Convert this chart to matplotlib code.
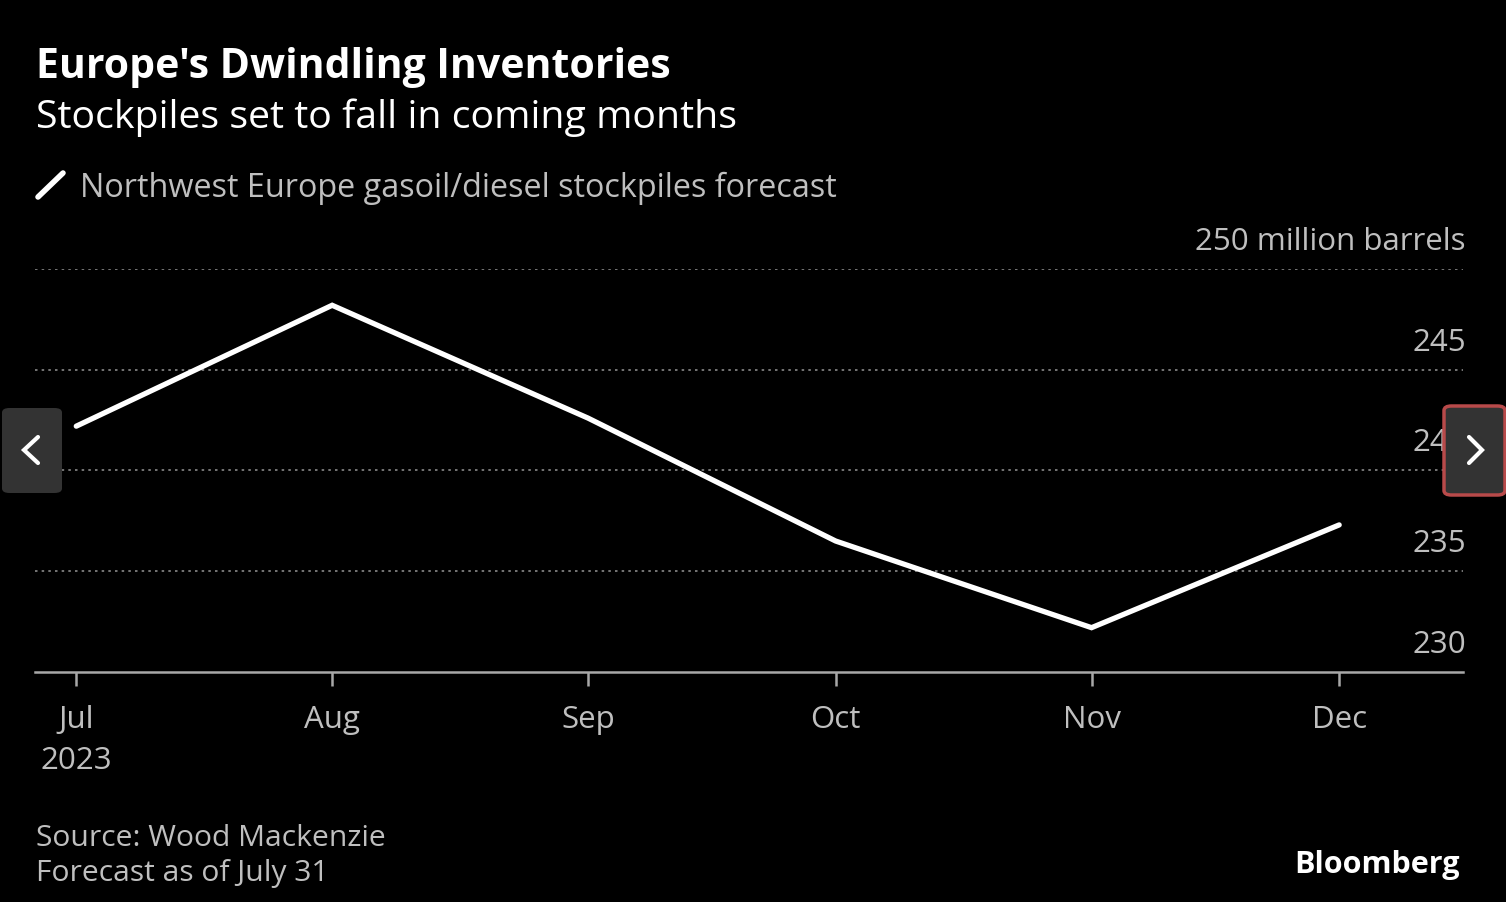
import datetime as dt
import matplotlib.pyplot as plt
import matplotlib.transforms as mtransforms
from matplotlib.patches import FancyBboxPatch
from matplotlib.lines import Line2D

# Northwest Europe gasoil/diesel stockpiles forecast, million barrels
months = [dt.date(2023, m, 1) for m in range(7, 13)]
stocks = [242.2, 248.2, 242.6, 236.5, 232.2, 237.3]
month_labels = ['Jul\n2023', 'Aug', 'Sep', 'Oct', 'Nov', 'Dec']
y_ticks = [230, 235, 240, 245, 250]
y_tick_labels = ['230', '235', '240', '245', '250 million barrels']

FONT = 'Open Sans'
GREY = '#bfbfbf'
plt.rcParams['font.family'] = [FONT, 'DejaVu Sans']

W, H = 1506, 902
fig = plt.figure(figsize=(W / 100, H / 100), dpi=100, facecolor='black')

# axes placed in pixel units of the reference
left, right, top, bottom = 35, 1463, 269, 672
ax = fig.add_axes([left / W, 1 - bottom / H, (right - left) / W, (bottom - top) / H])
ax.set_facecolor('black')

ax.plot(months, stocks, color='white', lw=3.8, solid_capstyle='round',
        solid_joinstyle='miter', zorder=3)

ax.set_xlim(dt.date(2023, 6, 26), dt.date(2023, 12, 16))
ax.set_ylim(230, 250)

for s in ['top', 'right', 'left']:
    ax.spines[s].set_visible(False)
ax.spines['bottom'].set_color('#a8a8a8')
ax.spines['bottom'].set_linewidth(1.8)

# dotted grid lines
for v in y_ticks[1:]:
    ax.axhline(v, color='#8a8a8a', lw=1.2, ls=(0, (1.5, 2.5)), zorder=1)

ax.set_yticks([])
ax.set_xticks(months)
ax.set_xticklabels(month_labels, color=GREY, fontsize=22.5, linespacing=1.45)
ax.tick_params(axis='x', length=10, width=1.8, color='#a8a8a8', pad=14)

trans = mtransforms.blended_transform_factory(ax.transAxes, ax.transData)
shift = mtransforms.ScaledTranslation(0, 0.12, fig.dpi_scale_trans)
for v, lab in zip(y_ticks, y_tick_labels):
    ax.text(1.002, v, lab, transform=trans + shift, ha='right', va='bottom',
            color=GREY, fontsize=22.5)

# titles
fig.text(36 / W, 1 - 68 / H, "Europe's Dwindling Inventories", color='white',
         fontsize=29.5, fontweight='bold', va='center', ha='left')
fig.text(36 / W, 1 - 118 / H, 'Stockpiles set to fall in coming months', color='white',
         fontsize=28.3, va='center', ha='left')

# legend
fig.add_artist(Line2D([38 / W, 63 / W], [1 - 197 / H, 1 - 173 / H], color='white',
                      lw=4, solid_capstyle='round', transform=fig.transFigure))
fig.text(80 / W, 1 - 188 / H, 'Northwest Europe gasoil/diesel stockpiles forecast',
         color=GREY, fontsize=23.3, va='center', ha='left')

# footer
fig.text(36 / W, 1 - 839 / H, 'Source: Wood Mackenzie', color=GREY, fontsize=21.6,
         va='center', ha='left')
fig.text(36 / W, 1 - 874 / H, 'Forecast as of July 31', color=GREY, fontsize=21.6,
         va='center', ha='left')
fig.text(1460 / W, 1 - 865 / H, 'Bloomberg', color='white', fontsize=22,
         fontweight='bold', va='center', ha='right')

# carousel buttons from the screenshot
def button(x0, y0, x1, y1, edge, points):
    box = FancyBboxPatch((x0 / W, 1 - y1 / H), (x1 - x0) / W, (y1 - y0) / H,
                         boxstyle='round,pad=0,rounding_size=0.005',
                         transform=fig.transFigure, facecolor='#333333',
                         edgecolor=edge, lw=2.5 if edge != 'none' else 0, zorder=10)
    fig.add_artist(box)
    xs = [p[0] / W for p in points]
    ys = [1 - p[1] / H for p in points]
    fig.add_artist(Line2D(xs, ys, color='white', lw=3, transform=fig.transFigure,
                          solid_capstyle='round', solid_joinstyle='miter', zorder=11))

button(2, 408, 62, 493, 'none', [(38, 437), (24, 450), (38, 463)])
button(1444, 406, 1505, 495, '#b84a4a', [(1469, 437), (1482, 450), (1469, 463)])

fig.savefig('out.png', dpi=100, facecolor='black')
